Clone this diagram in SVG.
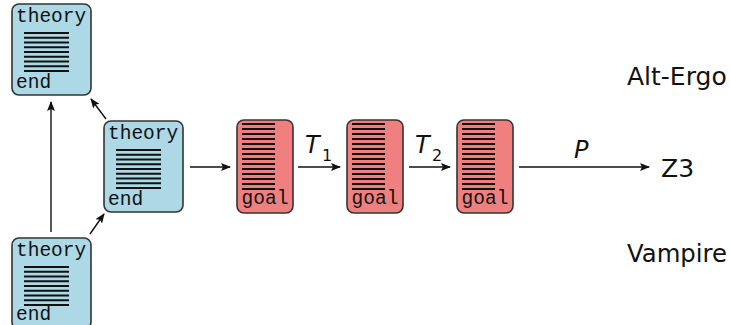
<svg xmlns="http://www.w3.org/2000/svg" width="730" height="325" viewBox="0 0 730 325">
<style>
.th{fill:#add8e6;stroke:#333;stroke-width:1.6}
.gl{fill:#f08080;stroke:#333;stroke-width:1.6}
.mono{font-family:"Liberation Mono","DejaVu Sans Mono",monospace;font-size:19.5px;fill:#111}
.bars{stroke:#111;stroke-width:2.2}
.lbl{font-family:"DejaVu Sans","Liberation Sans",sans-serif;font-size:25px;fill:#111}
.it{font-family:"DejaVu Sans","Liberation Sans",sans-serif;font-style:italic;font-size:24px;fill:#111}
.sub{font-family:"DejaVu Sans","Liberation Sans",sans-serif;font-size:16px;fill:#111}
.arr{stroke:#111;stroke-width:1.4;fill:none;marker-end:url(#ah)}
</style>
<defs>
<marker id="ah" viewBox="0 0 10 8" refX="9" refY="4" markerWidth="10" markerHeight="8" markerUnits="userSpaceOnUse" orient="auto">
<path d="M0,0 L10,4 L0,8 L2,4 z" fill="#111"/>
</marker>
<g id="tbars" class="bars">
<line x1="12" y1="29" x2="57" y2="29"/><line x1="12" y1="33.75" x2="57" y2="33.75"/><line x1="12" y1="38.5" x2="57" y2="38.5"/><line x1="12" y1="43.25" x2="57" y2="43.25"/><line x1="12" y1="48" x2="57" y2="48"/><line x1="12" y1="52.75" x2="57" y2="52.75"/><line x1="12" y1="57.5" x2="57" y2="57.5"/><line x1="12" y1="62.25" x2="57" y2="62.25"/><line x1="12" y1="67" x2="57" y2="67"/>
</g>
<g id="gbars" class="bars">
<line x1="5" y1="4" x2="38" y2="4"/><line x1="5" y1="9" x2="38" y2="9"/><line x1="5" y1="14" x2="38" y2="14"/><line x1="5" y1="19" x2="38" y2="19"/><line x1="5" y1="24" x2="38" y2="24"/><line x1="5" y1="29" x2="38" y2="29"/><line x1="5" y1="34" x2="38" y2="34"/><line x1="5" y1="39" x2="38" y2="39"/><line x1="5" y1="44" x2="38" y2="44"/><line x1="5" y1="49" x2="38" y2="49"/><line x1="5" y1="54" x2="38" y2="54"/><line x1="5" y1="59" x2="38" y2="59"/><line x1="5" y1="64" x2="38" y2="64"/><line x1="5" y1="69" x2="38" y2="69"/>
</g>
</defs>
<rect width="730" height="325" fill="#fff"/>

<g id="theory-top" transform="translate(12,4)">
<rect class="th" x="0" y="0" width="79" height="91" rx="7"/>
<text class="mono" x="4" y="18">theory</text>
<use href="#tbars"/>
<text class="mono" x="4" y="84">end</text>
</g>

<g id="theory-mid" transform="translate(104,121)">
<rect class="th" x="0" y="0" width="79" height="91" rx="7"/>
<text class="mono" x="4" y="18">theory</text>
<use href="#tbars"/>
<text class="mono" x="4" y="84">end</text>
</g>

<g id="theory-bot" transform="translate(12,238)">
<rect class="th" x="0" y="0" width="79" height="91" rx="7"/>
<text class="mono" x="4" y="18">theory</text>
<use href="#tbars"/>
<text class="mono" x="4" y="82">end</text>
</g>

<g id="goal1" transform="translate(237,120)">
<rect class="gl" x="0" y="0" width="56" height="93" rx="7"/>
<use href="#gbars"/>
<text class="mono" x="28" y="84" text-anchor="middle">goal</text>
</g>

<g id="goal2" transform="translate(347,120)">
<rect class="gl" x="0" y="0" width="56" height="93" rx="7"/>
<use href="#gbars"/>
<text class="mono" x="28" y="84" text-anchor="middle">goal</text>
</g>

<g id="goal3" transform="translate(457,120)">
<rect class="gl" x="0" y="0" width="56" height="93" rx="7"/>
<use href="#gbars"/>
<text class="mono" x="28" y="84" text-anchor="middle">goal</text>
</g>

<g id="alt-ergo"><text class="lbl" x="627" y="85">Alt-Ergo</text></g>
<g id="z3"><text class="lbl" x="661" y="177">Z3</text></g>
<g id="vampire"><text class="lbl" x="627" y="262" textLength="100" lengthAdjust="spacingAndGlyphs">Vampire</text></g>

<g id="connectors">
<line class="arr" x1="51" y1="232" x2="51" y2="102"/>
<line class="arr" x1="106" y1="119" x2="91" y2="99"/>
<line class="arr" x1="90" y1="234" x2="104" y2="214"/>
<line class="arr" x1="190" y1="167" x2="230" y2="167"/>
<line class="arr" x1="298" y1="167" x2="340" y2="167"/>
<line class="arr" x1="409" y1="167" x2="450" y2="167"/>
<line class="arr" x1="519" y1="167" x2="649" y2="167"/>
<text class="it" x="305" y="153">T</text><text class="sub" x="322" y="161">1</text>
<text class="it" x="415" y="153">T</text><text class="sub" x="432" y="161">2</text>
<text class="it" x="574" y="158">P</text>
</g>
</svg>
